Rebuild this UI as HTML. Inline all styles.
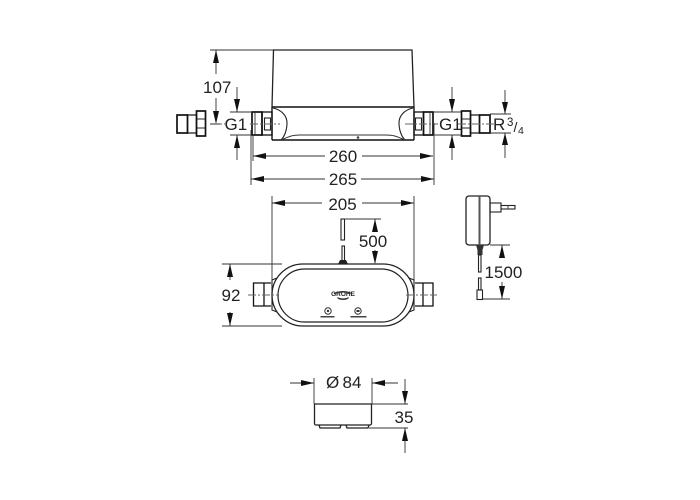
<!DOCTYPE html>
<html>
<head>
<meta charset="utf-8">
<style>
html,body{margin:0;padding:0;background:#fff;width:700px;height:500px;overflow:hidden}
svg{display:block;filter:blur(.3px)}
text{font-family:"Liberation Sans",sans-serif;font-size:17px;fill:#222}
.t{stroke:#333;stroke-width:.9;fill:none}
.m{stroke:#222;stroke-width:1.1;fill:none}
.h{stroke:#111;stroke-width:1.7;fill:none}
.c{stroke:#666;stroke-width:1;fill:none;stroke-dasharray:8 2 2 2}
.a{fill:#111;stroke:none}
</style>
</head>
<body>
<svg width="700" height="500" viewBox="0 0 700 500" xmlns="http://www.w3.org/2000/svg">
<!-- Top view: body -->
<path class="m" d="M272 107 L273.500 50 H412 L414 107" style="stroke-width:1.300"/>
<path class="h" d="M272 107 H414 M272 140 H414 M272 107 V140 M414 107 V140" style="stroke-width:1.400"/>
<path class="m" d="M273 108 C282 110 287 116 287 123 C287 131 284 137 281 140"/>
<path class="m" d="M413 108 C404 110 399 116 399 123 C399 131 402 137 405 140"/>
<path class="t" d="M281 140 C290 136 293 135 300 135 H386 C393 135 396 136 405 140" style="stroke-width:1"/>
<circle cx="358" cy="137.500" r="1.300" fill="#444"/>
<!-- Left fittings -->
<rect class="h" x="177" y="115" width="10.500" height="18"/>
<rect class="h" x="187.500" y="115" width="9" height="18" style="stroke-width:1.200"/>
<rect class="h" x="196.500" y="111" width="9" height="25"/>
<path class="m" d="M197 119 H205 M197 128 H205"/>
<rect class="h" x="252" y="112" width="10" height="23"/>
<path class="t" d="M255 112 V135"/>
<rect class="h" x="262" y="112" width="10" height="23" style="stroke-width:1.300"/>
<rect class="m" x="264.500" y="118" width="6" height="12"/>
<!-- Right fittings -->
<rect class="h" x="414" y="112" width="9.500" height="23" style="stroke-width:1.300"/>
<rect class="m" x="415.500" y="118" width="6" height="12"/>
<rect class="h" x="423.500" y="112" width="9.500" height="23"/>
<path class="t" d="M430 112 V135"/>
<rect class="h" x="461.500" y="111" width="9" height="25"/>
<path class="m" d="M462 119 H470 M462 128 H470"/>
<rect class="h" x="470.500" y="115" width="9" height="18" style="stroke-width:1.200"/>
<rect class="h" x="479.500" y="115" width="10.500" height="18"/>
<!-- Center lines -->
<path class="c" d="M210 124 H225 M250 124 H280"/>
<path class="c" d="M405 124 H438 M458 124 H494"/>
<!-- 107 -->
<path class="t" d="M210 50 H273 M216 50 V74 M216 98 V120 M210 124 H220"/>
<path class="a" d="M216 50 L213 63 H219 Z M216 124 L213 111 H219 Z"/>
<text x="203" y="93">107</text>
<!-- G1 left -->
<path class="t" d="M237 87 V112 M237 135 V160 M230 112 H252 M230 135 H252"/>
<path class="a" d="M237 112 L234 99 H240 Z M237 135 L234 148 H240 Z"/>
<text x="224.500" y="130">G1</text>
<!-- G1 right -->
<path class="t" d="M452 87 V112 M452 135 V160 M433 112 H461 M433 135 H461"/>
<path class="a" d="M452 112 L449 99 H455 Z M452 135 L449 148 H455 Z"/>
<text x="439" y="130">G1</text>
<!-- R3/4 -->
<path class="t" d="M505 90 V114 M505 133 V158 M490 114 H511 M490 133 H511"/>
<path class="a" d="M505 114 L502 102 H508 Z M505 133 L502 145 H508 Z"/>
<text x="493" y="130">R</text>
<text x="507" y="126" style="font-size:11.500px">3</text>
<text x="513.500" y="132" style="font-size:14px">/</text>
<text x="518" y="134" style="font-size:10.500px">4</text>
<!-- 260 -->
<path class="t" d="M253 135 V161 M434 123 V185 M253 156 H325 M362 156 H433"/>
<path class="a" d="M253 156 L266 153 V159 Z M433 156 L420 153 V159 Z"/>
<text x="343" y="162" text-anchor="middle">260</text>
<!-- 265 -->
<path class="t" d="M251 130 V185 M251 179 H325 M361 179 H434"/>
<path class="a" d="M251 179 L264 176 V182 Z M434 179 L421 176 V182 Z"/>
<text x="343" y="185" text-anchor="middle">265</text>
<!-- Middle view -->
<path class="t" d="M272 196 V280 M414 196 V280 M272 203 H322 M362 203 H414"/>
<path class="a" d="M272 203 L285 200 V206 Z M414 203 L401 200 V206 Z"/>
<text x="342.500" y="210" text-anchor="middle">205</text>
<rect x="272" y="264" width="142" height="62" rx="31" ry="31" fill="#fff" stroke="#222" stroke-width="1.300"/>
<rect x="278" y="269" width="130" height="53" rx="26.500" ry="26.500" fill="none" stroke="#222" stroke-width="1.200"/>
<path class="m" d="M277 278 L272 280 V310 L277 312 M409 278 L414 280 V310 L409 312"/>
<path class="h" d="M271 283 H253.500 V306 H271 M264 283 V306" style="stroke-width:1.300"/>
<path class="h" d="M415 283 H433 V306 H415 M423 283 V306" style="stroke-width:1.300"/>
<path class="c" d="M248 295 H279 M406 295 H437"/>
<!-- cable -->
<rect class="m" x="341" y="219" width="3.500" height="21"/>
<rect class="m" x="342" y="246" width="2.500" height="15"/>
<path d="M338 264 L340 260 H346 L348 264 Z" fill="#222"/>
<path class="t" d="M344 219 H381 M375 219 V232 M375 250 V263"/>
<path class="a" d="M375 219 L372 232 H378 Z M375 264 L372 251 H378 Z"/>
<text x="373" y="247" text-anchor="middle">500</text>
<!-- 92 -->
<path class="t" d="M222 264 H282 M222 326 H282 M230 264 V280 M230 312 V326"/>
<path class="a" d="M230 264 L227 277 H233 Z M230 326 L227 313 H233 Z"/>
<text x="231" y="301" text-anchor="middle">92</text>
<!-- logo -->
<text x="343" y="296" text-anchor="middle" style="font-size:6.500px;font-weight:bold;fill:#222">GROHE</text>
<path d="M334 293 Q343 289 352 293 L352 294 Q343 291 334 294 Z M337 297 Q343 300 349 297 L348 299 Q343 301 338 299 Z" fill="#333"/>
<circle cx="328" cy="311" r="3.200" fill="none" stroke="#333" stroke-width="1"/>
<circle cx="328" cy="311" r="1.200" fill="#333"/>
<circle cx="358" cy="311" r="3.200" fill="none" stroke="#333" stroke-width="1"/>
<rect x="356.500" y="310" width="3" height="2" fill="#333"/>
<rect x="320.500" y="316" width="14" height="1.500" fill="#444"/>
<rect x="350.500" y="316" width="16" height="1.500" fill="#444"/>
<!-- Adapter -->
<rect x="466" y="196" width="24" height="49" rx="3" ry="3" fill="#fff" stroke="#222" stroke-width="1.300"/>
<rect x="478.500" y="196" width="2" height="49" fill="#555"/>
<rect class="m" x="490" y="203" width="11" height="9"/>
<rect class="m" x="501" y="205.500" width="14" height="3.500"/>
<path class="t" d="M508 205.500 V209"/>
<path d="M476 245 H484 L482.500 250 V255 H477.500 V250 Z" fill="#333"/>
<rect class="m" x="478.500" y="255" width="2.500" height="17"/>
<rect class="m" x="478.500" y="278" width="2.500" height="12"/>
<rect class="m" x="477" y="290" width="5.500" height="9.500"/>
<path class="t" d="M490 245 H510 M483 299 H510 M502 245 V258 M502 282 V299"/>
<path class="a" d="M502 245 L499 258 H505 Z M502 299 L499 286 H505 Z"/>
<text x="484.500" y="278">1500</text>
<!-- Bottom view -->
<path class="t" d="M314 378 V404 M372 378 V404 M290 383 H314 M372 383 H398"/>
<path class="a" d="M314 383 L301 380 V386 Z M372 383 L385 380 V386 Z"/>
<text x="326" y="388">Ø</text>
<text x="342.500" y="388">84</text>
<path class="m" d="M314 404 H372 M314.500 404 V424 Q315 425 316 425 H370 Q371 425 371.500 424 V404" style="stroke-width:1.300"/>
<path class="m" d="M319 425 L320 428 H340 L341 425 M346 425 L347 428 H368 L369 425" style="stroke-width:1.300"/>
<path class="t" d="M372 404 H408 M369 428 H408 M405 379 V404 M405 428 V453"/>
<path class="a" d="M405 404 L402 391 H408 Z M405 428 L402 441 H408 Z"/>
<text x="404" y="423" text-anchor="middle">35</text>
</svg>
</body>
</html>
